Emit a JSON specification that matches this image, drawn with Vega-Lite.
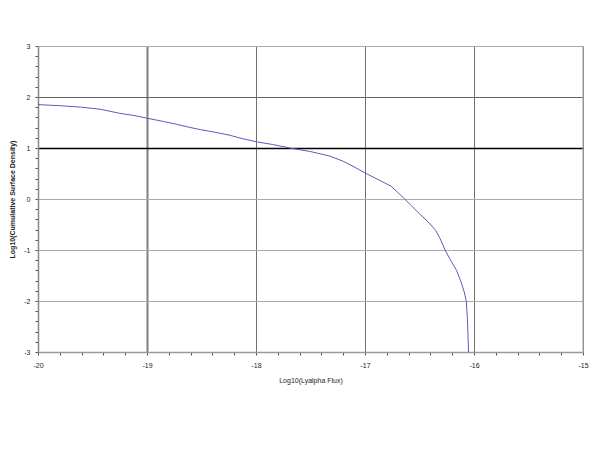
{
  "$schema": "https://vega.github.io/schema/vega-lite/v6.json",
  "width": 545,
  "height": 306,
  "autosize": {"type": "none"},
  "padding": {"left": 38, "top": 46, "right": 15, "bottom": 97},
  "background": "white",
  "config": {
    "view": {"stroke": null},
    "axis": {"labelFont": "Liberation Sans", "titleFont": "Liberation Sans", "labelColor": "#222", "titleColor": "#222"}
  },
  "data": {
    "values": [
      {"flux": -20.0, "dens": 1.85},
      {"flux": -19.8, "dens": 1.83},
      {"flux": -19.6, "dens": 1.8},
      {"flux": -19.43, "dens": 1.76},
      {"flux": -19.25, "dens": 1.68},
      {"flux": -19.1, "dens": 1.63},
      {"flux": -18.99, "dens": 1.58},
      {"flux": -18.85, "dens": 1.52},
      {"flux": -18.74, "dens": 1.47},
      {"flux": -18.62, "dens": 1.41},
      {"flux": -18.51, "dens": 1.36},
      {"flux": -18.38, "dens": 1.31},
      {"flux": -18.24, "dens": 1.25},
      {"flux": -18.12, "dens": 1.18},
      {"flux": -17.99, "dens": 1.12},
      {"flux": -17.85, "dens": 1.07},
      {"flux": -17.69, "dens": 1.0},
      {"flux": -17.5, "dens": 0.93},
      {"flux": -17.32, "dens": 0.84},
      {"flux": -17.2, "dens": 0.74},
      {"flux": -17.1, "dens": 0.63},
      {"flux": -16.99, "dens": 0.5},
      {"flux": -16.86, "dens": 0.36},
      {"flux": -16.76, "dens": 0.25},
      {"flux": -16.7, "dens": 0.13},
      {"flux": -16.65, "dens": 0.03},
      {"flux": -16.58, "dens": -0.12},
      {"flux": -16.5, "dens": -0.29},
      {"flux": -16.42, "dens": -0.45},
      {"flux": -16.35, "dens": -0.62},
      {"flux": -16.31, "dens": -0.78},
      {"flux": -16.27, "dens": -0.98},
      {"flux": -16.22, "dens": -1.18},
      {"flux": -16.16, "dens": -1.4},
      {"flux": -16.12, "dens": -1.62},
      {"flux": -16.09, "dens": -1.82},
      {"flux": -16.07, "dens": -2.01},
      {"flux": -16.06, "dens": -2.37},
      {"flux": -16.05, "dens": -3.0}
    ]
  },
  "encoding": {
    "x": {
      "field": "flux", "type": "quantitative",
      "scale": {"domain": [-20, -15], "nice": false, "zero": false},
      "axis": {
        "title": "Log10(Lyalpha Flux)",
        "titleFontSize": 7, "titleFontWeight": "normal", "titlePadding": 8,
        "values": [-20,-19.8,-19.6,-19.4,-19.2,-19,-18.8,-18.6,-18.4,-18.2,-18,-17.8,-17.6,-17.4,-17.2,-17,-16.8,-16.6,-16.4,-16.2,-16,-15.8,-15.6,-15.4,-15.2,-15],
        "labelExpr": "abs(datum.value - round(datum.value)) < 0.01 ? '' + round(datum.value) : ''",
        "labelFontSize": 7, "labelPadding": 6,
        "tickSize": 3, "tickColor": "#555",
        "domainColor": "#999", "domainWidth": 1.5,
        "grid": true,
        "gridColor": {"condition": {"test": "datum.value === -19", "value": "#808080"}, "value": "#707070"},
        "gridOpacity": {"condition": {"test": "abs(datum.value - round(datum.value)) < 0.01 && datum.value > -20", "value": 1}, "value": 0},
        "gridWidth": {"condition": {"test": "datum.value === -19", "value": 2}, "value": 1},
        "labelFlush": false
      }
    },
    "y": {
      "field": "dens", "type": "quantitative",
      "scale": {"domain": [-3, 3], "nice": false, "zero": false},
      "axis": {
        "title": "Log10(Cumulative Surface Density)",
        "titleFontSize": 7, "titleFontWeight": "bold", "titlePadding": 8,
        "values": [-3,-2.8,-2.6,-2.4,-2.2,-2,-1.8,-1.6,-1.4,-1.2,-1,-0.8,-0.6,-0.4,-0.2,0,0.2,0.4,0.6,0.8,1,1.2,1.4,1.6,1.8,2,2.2,2.4,2.6,2.8,3],
        "labelExpr": "abs(datum.value - round(datum.value)) < 0.01 ? '' + round(datum.value) : ''",
        "labelFontSize": 7, "labelPadding": 5,
        "tickSize": 3, "tickColor": "#555",
        "domainColor": "#888", "domainWidth": 1.5,
        "grid": true,
        "gridColor": {"condition": [{"test": "datum.value === 1", "value": "#000000"}, {"test": "datum.value === 2", "value": "#666666"}], "value": "#aaaaaa"},
        "gridOpacity": {"condition": {"test": "abs(datum.value - round(datum.value)) < 0.01 && datum.value > -3", "value": 1}, "value": 0},
        "gridWidth": {"condition": {"test": "datum.value === 1", "value": 1.5}, "value": 1.2},
        "labelFlush": false
      }
    }
  },
  "layer": [
    {"mark": {"type": "line", "color": "#5b5bc0", "strokeWidth": 1, "clip": true}},
    {
      "data": {"values": [{"v": -15}]},
      "mark": {"type": "rule", "color": "#aaaaaa", "strokeWidth": 1.2},
      "encoding": {"x": {"field": "v", "type": "quantitative"}, "y": null}
    }
  ]
}
